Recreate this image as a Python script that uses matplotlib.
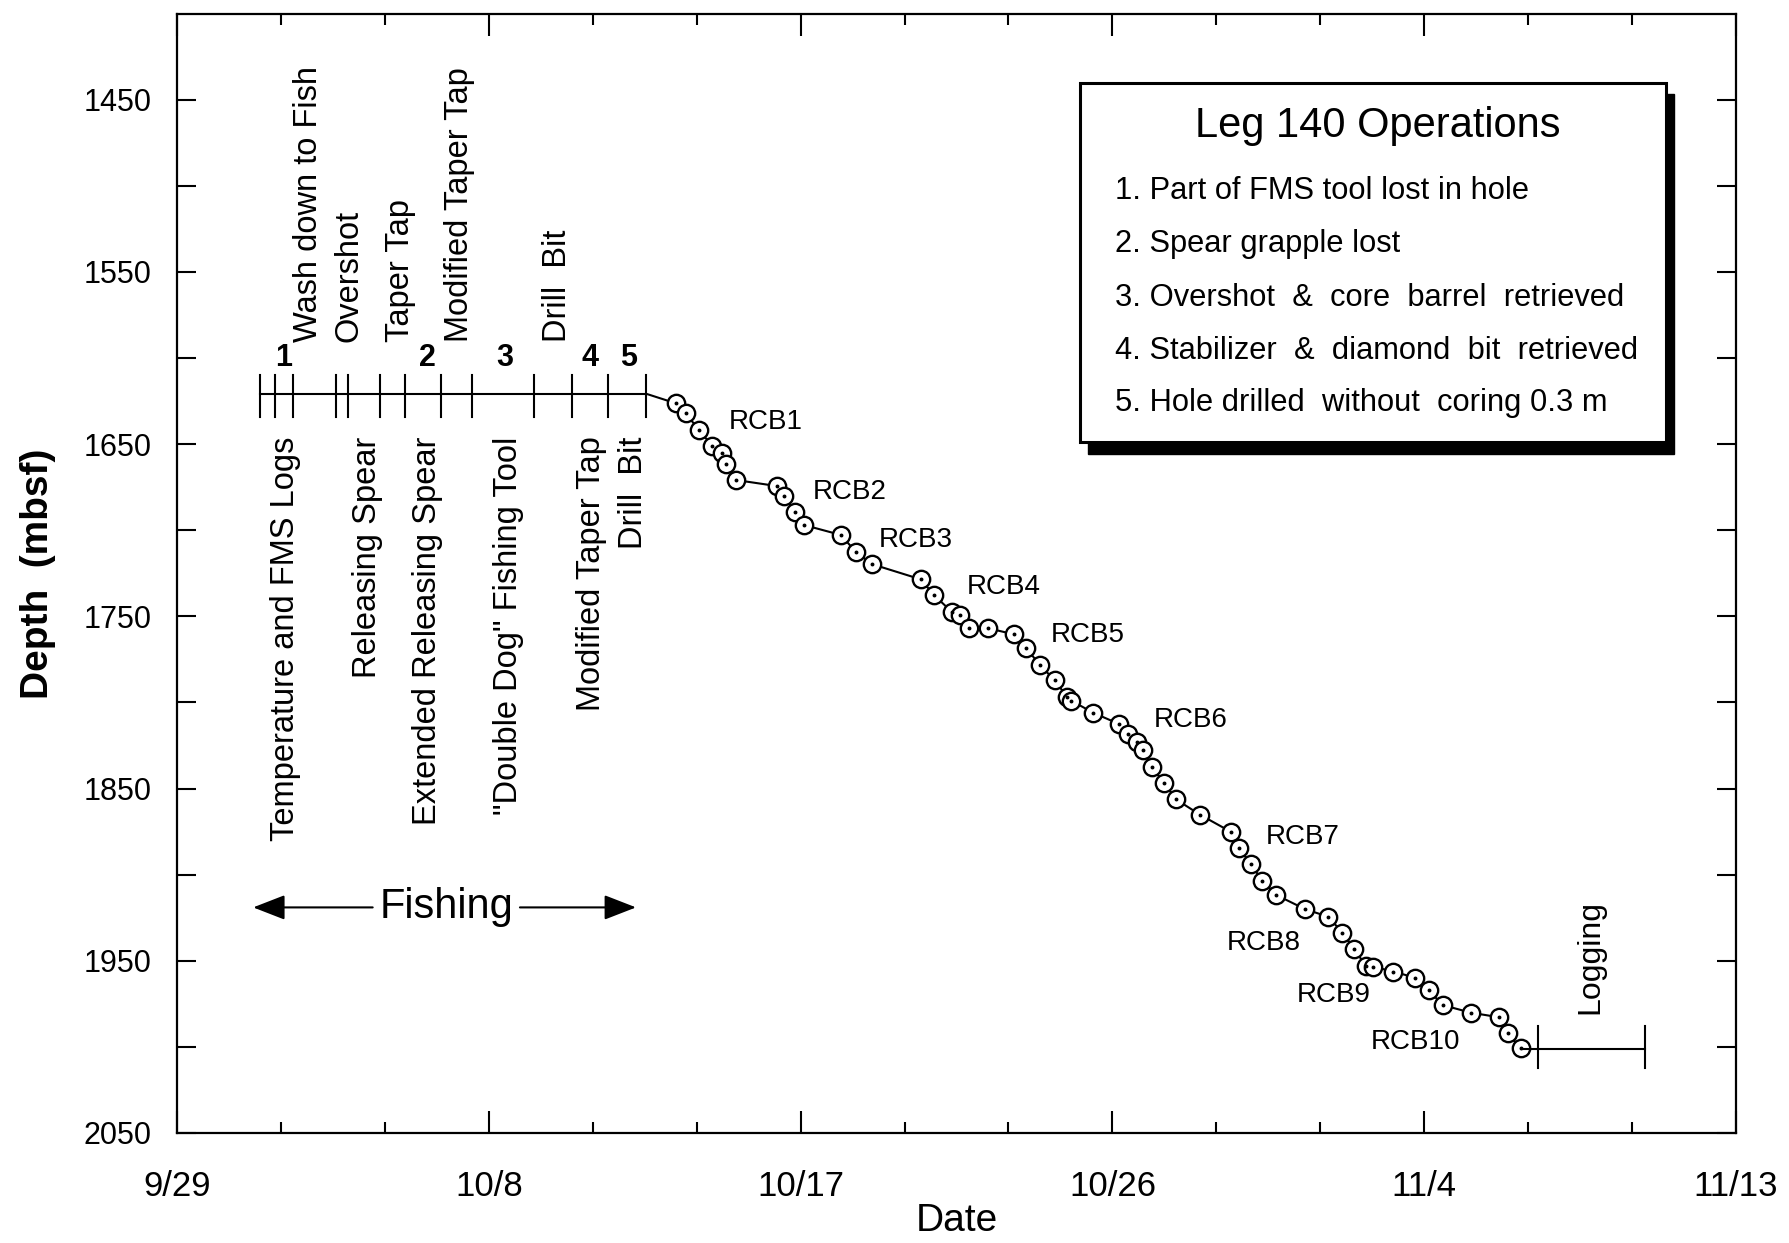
import matplotlib
matplotlib.use('Agg')
import matplotlib.pyplot as plt
from matplotlib import font_manager
from matplotlib.patches import Rectangle

plt.rcParams['font.family'] = ['Liberation Sans', 'DejaVu Sans']
installed = {f.name for f in font_manager.fontManager.ttflist}
narrow = 'Liberation Sans Narrow' if 'Liberation Sans Narrow' in installed else 'Liberation Sans'

# x = days after 9/29, y = depth (mbsf)
date_ticks = [0, 9, 18, 27, 36, 45]
date_labels = ['9/29', '10/8', '10/17', '10/26', '11/4', '11/13']
depth_ticks = [1450, 1550, 1650, 1750, 1850, 1950, 2050]

# fishing period, before coring resumed
fish_depth = 1620.7
fish_events = [2.39, 2.82, 3.34, 4.58, 4.94, 5.86, 6.58, 7.62, 8.52, 10.30, 11.39, 12.43, 13.54]
labels_above = ['Wash down to Fish', 'Overshot', 'Taper Tap', 'Modified Taper Tap', 'Drill  Bit']
labels_above_x = [3.80, 4.96, 6.45, 8.17, 10.98]
labels_below = ['Temperature and FMS Logs', 'Releasing Spear', 'Extended Releasing Spear',
                '"Double Dog" Fishing Tool', 'Modified Taper Tap', 'Drill  Bit']
labels_below_x = [3.13, 5.50, 7.24, 9.56, 11.97, 13.18]
op_numbers = ['1', '2', '3', '4', '5']
op_numbers_x = [3.08, 7.24, 9.46, 11.92, 13.03]

# RCB coring progress
core_days = [14.39, 14.68, 15.07, 15.45, 15.72, 15.86, 16.13, 17.31, 17.53, 17.85,
             18.09, 19.16, 19.59, 20.05, 21.47, 21.85, 22.36, 22.60, 22.86, 23.42,
             24.15, 24.51, 24.90, 25.33, 25.68, 25.81, 26.44, 27.19, 27.46, 27.70,
             27.88, 28.13, 28.49, 28.83, 29.54, 30.41, 30.65, 30.99, 31.33, 31.73,
             32.57, 33.23, 33.64, 33.98, 34.31, 34.53, 35.11, 35.74, 36.13, 36.53,
             37.34, 38.16, 38.42, 38.78]
core_depth = [1626.2, 1632.0, 1641.8, 1651.0, 1654.9, 1661.5, 1670.8, 1674.3, 1680.1, 1689.2,
              1696.9, 1702.7, 1712.4, 1719.6, 1728.5, 1737.6, 1747.3, 1749.2, 1756.6, 1756.9,
              1760.4, 1768.2, 1778.2, 1786.9, 1796.6, 1798.9, 1805.9, 1812.5, 1818.3, 1822.8,
              1827.6, 1837.3, 1846.6, 1856.2, 1865.3, 1875.0, 1884.3, 1893.8, 1903.5, 1911.8,
              1920.1, 1924.4, 1933.7, 1943.0, 1953.0, 1953.4, 1956.3, 1959.8, 1967.0, 1975.7,
              1980.1, 1982.8, 1992.1, 2000.8]

rcb_names = ['RCB1', 'RCB2', 'RCB3', 'RCB4', 'RCB5', 'RCB6', 'RCB7', 'RCB8', 'RCB9', 'RCB10']
rcb_x = [15.93, 18.35, 20.26, 22.79, 25.21, 28.20, 31.44, 30.31, 32.31, 34.46]
rcb_y = [1636.9, 1677.6, 1705.4, 1732.7, 1760.8, 1810.2, 1877.9, 1939.8, 1969.9, 1997.0]

logging_start, logging_end, logging_depth = 39.27, 42.36, 2001.0

ops_title = 'Leg 140 Operations'
ops_items = ['1. Part of FMS tool lost in hole',
             '2. Spear grapple lost',
             '3. Overshot  &  core  barrel  retrieved',
             '4. Stabilizer  &  diamond  bit  retrieved',
             '5. Hole drilled  without  coring 0.3 m']

fig = plt.figure(figsize=(17.89, 12.43), dpi=100)
ax = fig.add_axes([0.0989, 0.0885, 0.8715, 0.9005])

ax.set_xlim(0, 45)
ax.set_ylim(2050, 1400)

# fishing timeline
ax.plot([fish_events[0], fish_events[-1]], [fish_depth, fish_depth], color='black', lw=1.5)
for d in fish_events:
    ax.plot([d, d], [1610, 1634], color='black', lw=1.5)
for lab, x in zip(labels_above, labels_above_x):
    ax.text(x, 1590.6, lab, rotation=90, ha='center', va='bottom', fontsize=23.5)
for lab, x in zip(labels_below, labels_below_x):
    ax.text(x, 1645.6, lab, rotation=90, ha='center', va='top', fontsize=23.5)
for n, x in zip(op_numbers, op_numbers_x):
    ax.text(x, 1608.7, n, ha='center', va='bottom', fontsize=22, fontweight='bold')

# coring curve
ax.plot([fish_events[-1]] + core_days, [fish_depth] + core_depth, color='black', lw=1.5)
ax.plot(core_days, core_depth, linestyle='none', marker='o', markersize=12.5,
        markerfacecolor='white', markeredgecolor='black', markeredgewidth=1.7)
ax.plot(core_days, core_depth, linestyle='none', marker='o', markersize=1.8,
        color='black')
for name, x, y in zip(rcb_names, rcb_x, rcb_y):
    ax.text(x, y, name, ha='left', va='center', fontsize=20, family=narrow)

# logging
ax.plot([core_days[-1], logging_end], [logging_depth, logging_depth], color='black', lw=1.5)
for d in [logging_start, logging_end]:
    ax.plot([d, d], [1988, 2012], color='black', lw=1.5)
ax.text(40.8, 1981, 'Logging', rotation=90, ha='center', va='bottom', fontsize=23)

# fishing arrow
ax.text(7.77, 1919, 'Fishing', ha='center', va='center', fontsize=30)
arrow = dict(arrowstyle='-|>,head_length=0.9,head_width=0.35', color='black', lw=1.5,
             mutation_scale=22, shrinkA=0, shrinkB=0)
ax.annotate('', xy=(2.2, 1919), xytext=(5.65, 1919), arrowprops=arrow)
ax.annotate('', xy=(13.25, 1919), xytext=(9.9, 1919), arrowprops=arrow)

# operations box with shadow
bx, by, bw, bh = 0.579, 0.617, 0.376, 0.321
ax.add_patch(Rectangle((bx + 0.0055, by - 0.010), bw, bh, transform=ax.transAxes,
                       facecolor='black', edgecolor='black', zorder=4))
ax.add_patch(Rectangle((bx, by), bw, bh, transform=ax.transAxes,
                       facecolor='white', edgecolor='black', lw=2.2, zorder=5))
ax.text(0.770, 0.900, ops_title, transform=ax.transAxes, ha='center', va='center',
        fontsize=30, zorder=6)
item_y = [0.842, 0.794, 0.746, 0.699, 0.652]
for txt, y in zip(ops_items, item_y):
    ax.text(0.6017, y, txt, transform=ax.transAxes, ha='left', va='center',
            fontsize=22.2, zorder=6)

# axes styling
ax.set_xticks(date_ticks)
ax.set_xticklabels(date_labels, family=narrow, fontsize=25)
ax.set_xticks(range(0, 46, 3), minor=True)
ax.set_yticks(depth_ticks)
ax.set_yticklabels([str(v) for v in depth_ticks], fontsize=22)
ax.set_yticks(range(1500, 2050, 100), minor=True)
ax.tick_params(axis='x', which='major', direction='in', top=True, length=16, width=1.5, pad=27)
ax.tick_params(axis='x', which='minor', direction='in', top=True, length=8, width=1.5)
ax.tick_params(axis='y', which='both', direction='in', right=True, length=14, width=1.5, pad=18)
for s in ax.spines.values():
    s.set_linewidth(1.6)

ax.set_xlabel('Date', fontsize=28, family=narrow, labelpad=0)
ax.set_ylabel('Depth  (mbsf)', fontsize=28, fontweight='bold', labelpad=20)

fig.savefig('out.png', dpi=100)
